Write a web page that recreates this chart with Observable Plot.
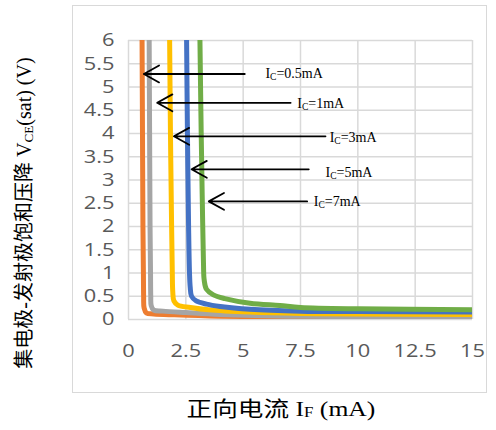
<!DOCTYPE html>
<html><head><meta charset="utf-8">
<script src="https://cdn.jsdelivr.net/npm/d3@7"></script>
<script src="https://cdn.jsdelivr.net/npm/@observablehq/plot@0.6"></script>
<style>
body{margin:0;background:#fff;}
#wrap{position:relative;width:496px;height:430px;overflow:hidden;font-family:"Liberation Serif","Noto Sans CJK SC",serif;color:#000;}
#wrap svg{position:absolute;left:0;top:0;}
#box{position:absolute;left:72px;top:5px;width:415px;height:388px;border:1px solid #d9d9d9;box-sizing:border-box;}
#xt{position:absolute;left:281px;top:409px;transform:translate(-50%,-50%) scaleX(1.22);white-space:nowrap;font-size:21px;line-height:1;}
#yt{position:absolute;left:24px;top:213px;transform:translate(-50%,-50%) rotate(-90deg);white-space:nowrap;font-size:20px;line-height:1;}
sub{font-size:0.66em;vertical-align:-0.12em;line-height:0;}
</style>
</head><body>
<div id="wrap"></div>
<script>
// ---- data ----
const seriesNames = ["IC=0.5mA","IC=1mA","IC=3mA","IC=5mA","IC=7mA"];
const seriesColors = ["#ED7D31","#A5A5A5","#FFC000","#4472C4","#70AD47"];

const ic05X = [0.59,0.61,0.63,0.65,0.66,0.68,0.78,1.1,2,4,7.5,15];
const ic05Y = [6.2,4,2,1,0.5,0.25,0.14,0.12,0.1,0.07,0.05,0.03];
const ic1X  = [0.9,0.92,0.94,0.96,0.97,0.99,1.1,1.5,2.5,4,7.5,15];
const ic1Y  = [6.2,4,2,1,0.5,0.3,0.2,0.18,0.15,0.11,0.07,0.05];
const ic3X  = [1.79,1.83,1.88,1.91,1.93,1.98,2.15,2.7,3.5,5.3,7.5,10,15];
const ic3Y  = [6.2,4,2,1,0.6,0.4,0.31,0.26,0.21,0.16,0.13,0.12,0.11];
const ic5X  = [2.53,2.57,2.62,2.66,2.69,2.75,2.95,3.4,4,5.3,7.5,10,15];
const ic5Y  = [6.2,4,2,1,0.7,0.5,0.4,0.33,0.28,0.22,0.18,0.17,0.16];
const ic7X  = [3.11,3.17,3.22,3.27,3.3,3.4,3.7,4.2,5.3,6.6,7.5,10,15];
const ic7Y  = [6.2,4,2.5,1.2,0.85,0.65,0.53,0.45,0.35,0.3,0.26,0.23,0.21];

const arrowTail = [5.07,7.07,8.59,7.86,7.79];
const arrowTip  = [0.67,1.25,1.98,2.75,3.5];
const arrowY    = [5.28,4.66,3.94,3.23,2.54];
const labelX    = [5.97,7.36,8.77,8.59,8.08];
const labelY    = [5.28,4.64,3.91,3.17,2.53];

const xTicks = [0,2.5,5,7.5,10,12.5,15];
const yTicks = [0,0.5,1,1.5,2,2.5,3,3.5,4,4.5,5,5.5,6];

// ---- build ----
const curveX = [ic05X,ic1X,ic3X,ic5X,ic7X];
const curveY = [ic05Y,ic1Y,ic3Y,ic5Y,ic7Y];
const rows = seriesNames.flatMap((s,k)=>curveX[k].map((x,i)=>({s, x, y: curveY[k][i]})));
const idx = arrowTail.map((_,i)=>i);

const chart = Plot.plot({
  width: 496, height: 430,
  marginLeft: 128, marginRight: 24, marginTop: 40, marginBottom: 111,
  style: {fontFamily: "'Open Sans', sans-serif", fontSize: "18.5px", color: "#595959", background: "transparent"},
  x: {domain: [0,15], ticks: xTicks, tickSize: 0, tickPadding: 24, tickFormat: d => String(d), label: null},
  y: {domain: [0,6], ticks: yTicks, tickSize: 0, tickPadding: 14, tickFormat: d => String(d), label: null},
  color: {domain: seriesNames, range: seriesColors},
  marks: [
    Plot.gridX(xTicks, {stroke: "#d9d9d9", strokeOpacity: 1, strokeWidth: 1.5}),
    Plot.gridY(yTicks, {stroke: "#d9d9d9", strokeOpacity: 1, strokeWidth: 1.5}),
    Plot.line(rows, {x: "x", y: "y", z: "s", stroke: "s", strokeWidth: 5, curve: "catmull-rom", clip: true}),
    Plot.arrow(idx, {x1: i => arrowTail[i], x2: i => arrowTip[i], y1: i => arrowY[i], y2: i => arrowY[i],
      stroke: "black", strokeWidth: 1.8, headLength: 14.5, headAngle: 58}),
    Plot.text(idx, {x: i => labelX[i], y: i => labelY[i], text: i => seriesNames[i], textAnchor: "start",
      fill: "black", fontFamily: "'Liberation Serif', serif", fontSize: 14})
  ]
});

// subscripts in the arrow labels and horizontal stretch of tick labels
chart.querySelectorAll("text").forEach(t => {
  const s = t.textContent;
  if (s.startsWith("IC=")) {
    const rest = s.slice(2);
    t.textContent = "";
    const a = document.createElementNS("http://www.w3.org/2000/svg","tspan"); a.textContent = "I";
    const b = document.createElementNS("http://www.w3.org/2000/svg","tspan"); b.textContent = "C";
    b.setAttribute("font-size","9.5"); b.setAttribute("dy","2");
    const c = document.createElementNS("http://www.w3.org/2000/svg","tspan"); c.textContent = rest;
    c.setAttribute("dy","-2");
    t.append(a,b,c);
  } else {
    const tr = t.getAttribute("transform");
    if (tr && tr.startsWith("translate(")) t.setAttribute("transform", tr + " scale(1.18,1)");
  }
});

const wrap = document.getElementById("wrap");
wrap.append(chart);
const box = document.createElement("div"); box.id = "box"; wrap.append(box);
const xt = document.createElement("div"); xt.id = "xt";
xt.innerHTML = "正向电流 I<sub>F</sub> (mA)"; wrap.append(xt);
const yt = document.createElement("div"); yt.id = "yt";
yt.innerHTML = "集电极-发射极饱和压降 V<sub>CE</sub>(sat) (V)"; wrap.append(yt);
</script>
</body></html>
